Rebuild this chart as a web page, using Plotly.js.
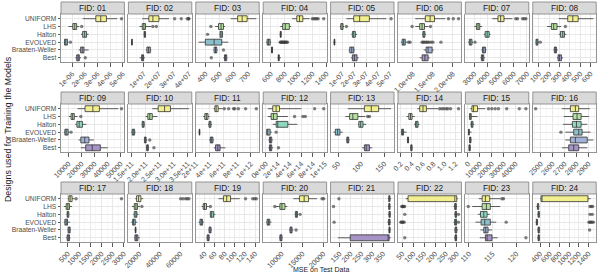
<!DOCTYPE html>
<html><head><meta charset="utf-8">
<script src="https://cdn.plot.ly/plotly-3.0.1.min.js"></script>
<style>html,body{margin:0;padding:0;background:#fff}#chart{width:598px;height:275px}</style>
</head><body><div id="chart"></div>
<script>
// Designs (top to bottom) and fills
const designs = ["UNIFORM","LHS","Halton","EVOLVED","Braaten-Weller","Best"];
const fills = ["#F2F08E","#B5E2A0","#8FD8C0","#8BBFCC","#A2B2D6","#A694C6"];
const fids = ["01","02","03","04","05","06","07","08","09","10","11","12","13","14","15","16","17","18","19","20","21","22","23","24"];

// Each box: [lower whisker, q1, median, q3, upper whisker], one row per design
const box01 = [[1.82e-6,2.86e-6,3.25e-6,3.70e-6,4.55e-6],[0.70e-6,1.04e-6,1.20e-6,1.35e-6,1.56e-6],[1.69e-6,1.82e-6,1.98e-6,2.13e-6,2.29e-6],[0.34e-6,0.39e-6,0.49e-6,0.62e-6,0.70e-6],[1.51e-6,1.66e-6,1.79e-6,1.92e-6,2.29e-6],[1.25e-6,1.35e-6,1.46e-6,1.56e-6,1.69e-6]];
const out01 = [[4.89e-6],[1.75e-6],[],[0.86e-6],[],[2.03e-6]];
const box02 = [[0.89e7,1.33e7,1.60e7,2.00e7,2.67e7],[0.71e7,0.89e7,1.00e7,1.11e7,1.49e7],[0.98e7,1.02e7,1.05e7,1.11e7,1.13e7],[0.16e7,0.18e7,0.20e7,0.23e7,0.25e7],[1.13e7,1.20e7,1.31e7,1.43e7,1.49e7],[0.71e7,0.85e7,0.91e7,0.98e7,1.07e7]];
const out02 = [[3.05e7,3.49e7,3.89e7,3.98e7,4.0e7],[1.6e7,1.83e7],[],[],[],[]];
const box03 = [[577,626,658,693,758],[467,491,509,526,537],[498,502,509,519,523],[351,398,460,514,560],[456,460,470,479,484],[526,533,540,549,553]];
const out03 = [[],[437],[414],[],[526],[440]];
const box04 = [[905,973,1012,1060,1157],[736,770,808,866,891],[727,735,740,750,755],[532,547,566,590,605],[605,610,617,624,630],[697,707,712,722,745]];
const out04 = [[1197,1220,1240,1260,1280,1360],[],[],[735,745,755,765,775,785,795,805,815,825,840],[],[]];
const box05 = [[1.36e-7,1.97e-7,2.47e-7,3.28e-7,4.7e-7],[0.81e-7,0.89e-7,1.0e-7,1.08e-7,1.17e-7],[1.78e-7,1.86e-7,1.97e-7,2.11e-7,2.25e-7],[0.28e-7,0.33e-7,0.36e-7,0.39e-7,0.44e-7],[1.56e-7,1.64e-7,1.81e-7,1.97e-7,2.06e-7],[1.75e-7,1.86e-7,2.03e-7,2.25e-7,2.39e-7]];
const out05 = [[5.1e-7],[1.36e-7],[],[],[],[]];
const box06 = [[1.06e8,1.31e8,1.43e8,1.54e8,1.81e8],[1.06e8,1.17e8,1.23e8,1.29e8,1.39e8],[1.23e8,1.25e8,1.28e8,1.30e8,1.33e8],[0.70e8,0.73e8,0.77e8,0.81e8,0.85e8],[1.27e8,1.33e8,1.38e8,1.48e8,1.52e8],[1.17e8,1.23e8,1.30e8,1.38e8,1.42e8]];
const out06 = [[1.89e8,2.01e8,2.14e8],[0.98e8,1.44e8],[],[0.89e8,0.93e8,1.23e8,1.26e8,1.29e8,1.33e8,1.36e8,1.40e8,1.45e8,1.50e8,1.70e8],[],[]];
const box07 = [[4359,4795,5000,5256,5897],[3000,3154,3282,3410,3590],[3718,3820,3974,4128,4231],[2538,2615,2692,2820,2897],[3538,3615,3718,3846,3923],[3462,3538,3615,3718,3795]];
const out07 = [[6154,6282,6667,6795,6923],[],[],[3050],[],[]];
const box08 = [[292,379,428,480,627],[178,220,243,275,314],[292,308,330,347,366],[68,71,81,90,100],[240,249,259,269,282],[275,285,298,318,334]];
const out08 = [[],[356],[],[113],[],[]];
const box09 = [[17000,22750,28750,33750,48250],[10250,12000,13250,14500,17000],[15250,16500,18250,20750,23750],[6500,7250,8250,9750,10750],[17750,19500,22500,25750,29500],[19500,23250,28250,34500,40250]];
const out09 = [[50750],[19500],[],[12000],[],[]];
const box10 = [[2.24e11,2.45e11,2.68e11,2.89e11,3.55e11],[2.0e11,2.08e11,2.15e11,2.24e11,2.42e11],[1.86e11,1.88e11,1.92e11,1.95e11,1.98e11],[1.49e11,1.52e11,1.56e11,1.61e11,1.64e11],[1.95e11,1.96e11,2.0e11,2.02e11,2.06e11],[2.01e11,2.04e11,2.06e11,2.10e11,2.12e11]];
const out10 = [[],[],[],[],[2.15e11],[2.3e11]];
const box11 = [[4.57e11,4.76e11,4.95e11,5.24e11,5.90e11],[3.05e11,3.29e11,3.52e11,3.76e11,4.0e11],[3.76e11,3.90e11,4.05e11,4.19e11,4.33e11],[2.40e11,2.47e11,2.52e11,2.57e11,2.62e11],[3.90e11,4.10e11,4.29e11,4.48e11,4.62e11],[4.62e11,4.86e11,5.19e11,5.52e11,6.29e11]];
const out11 = [[6.14e11,6.76e11,7.48e11,7.67e11,8.19e11,9.24e11,10.8e11],[],[],[],[],[]];
const box12 = [[0.031e15,0.116e15,0.174e15,0.231e15,0.602e15],[0.031e15,0.089e15,0.128e15,0.191e15,0.373e15],[0.116e15,0.174e15,0.202e15,0.373e15,0.533e15],[0.003e15,0.014e15,0.031e15,0.072e15,0.099e15],[0.043e15,0.060e15,0.077e15,0.099e15,0.116e15],[0.043e15,0.060e15,0.077e15,0.099e15,0.123e15]];
const out12 = [[0.829e15,0.983e15],[0.487e15,0.629e15,0.670e15],[],[0.174e15],[],[0.214e15]];
const box13 = [[71,107,122,138,165],[66,75,82,93,109],[93,95,99,104,111],[40,44,49,54,60],[67,69,71,73,75],[102,107,111,118,124]];
const out13 = [[],[114,118],[],[],[],[]];
const box14 = [[0.503,0.545,0.605,0.667,0.878],[0.304,0.345,0.376,0.405,0.455],[0.442,0.467,0.491,0.515,0.54],[0.2,0.213,0.231,0.249,0.304],[0.31,0.322,0.33,0.34,0.35],[0.37,0.382,0.39,0.405,0.415]];
const out14 = [[0.909,0.951,0.987,1.03,1.06,1.11,1.255],[],[],[],[],[]];
const box15 = [[1944,3333,4722,8056,14444],[833,1389,1944,2778,8056],[1944,2778,3333,4167,5278],[278,556,833,1111,3056],[1111,1389,1944,2500,3056],[556,833,1389,1944,2500]];
const out15 = [[17222,20000,22778,25556,32500,43056,48611],[],[],[],[],[]];
const box16 = [[2677,2748,2790,2818,2911],[2692,2770,2804,2838,2903],[2686,2765,2799,2838,2889],[2706,2776,2818,2846,2917],[2706,2748,2790,2889,2940],[2677,2734,2776,2818,2889]];
const out16 = [[2458],[],[],[2669],[],[]];
const box17 = [[500,544,603,691,794],[324,426,500,574,691],[441,471,500,544,574],[324,368,426,485,603],[485,515,559,603,632],[426,471,515,574,618]];
const out17 = [[868,2897],[],[],[],[],[]];
const box18 = [[16129,17419,19355,21613,23871],[12903,15161,16774,18387,20645],[14194,15161,16774,17742,19355],[12258,13548,14194,16129,18065],[15484,16129,16452,16774,17097],[15161,15806,17097,18710,20645]];
const out18 = [[60323,62581,65161,66774,68387],[22581],[],[],[],[]];
const box19 = [[67.7,77.4,83.9,91.6,109.7],[34.2,37.4,40,43.9,48.4],[50.3,51.6,54.2,58.1,61.3],[28.4,31,33.5,36.1,38.7],[47.7,49,51,52.9,54.2],[43.9,45.2,47.1,49,50.3]];
const out19 = [[121.3,135.5,139.4,142.6],[51.6],[],[],[],[]];
const box20 = [[12823,14274,15403,16452,18468],[8629,9597,10081,10806,11371],[13145,13306,13548,13790,13952],[6290,6532,6855,7177,7580],[11774,12016,12258,12500,12823],[9435,9597,9839,10081,10242]];
const out20 = [[19677,20081],[8387],[14435],[],[13468],[]];
const box21 = [[372,376,379,382,387],[372,376,379,382,385],[373,377,380,383,386],[370,375,379,382,386],[374,377,380,382,385],[142,199,373,378,385]];
const out21 = [[147],[122],[],[125],[],[]];
const box22 = [[65,76,291,300,305],[285,290,294,298,302],[288,292,295,299,302],[285,290,295,299,302],[288,292,296,300,305],[288,292,295,299,302]];
const out22 = [[],[47,50,53,57,60],[61,308],[43,46,50,54,58,308],[],[61]];
const box23 = [[112.08,112.78,113.47,114.38,116.6],[110.69,112.78,113.68,114.51,116.6],[111.88,112.43,113.13,113.82,114.38],[111.39,112.57,113.33,114.51,115.76],[112.43,113.13,113.54,114.03,114.86],[112.29,113.47,113.82,114.86,116.04]];
const out23 = [[116.94,117.29],[109.86],[],[117.85],[],[122.01]];
const box24 = [[407,421,441,1386,1441],[324,345,359,372,386],[345,359,372,386,400],[310,324,338,345,359],[345,359,372,386,400],[345,359,372,386,400]];
const out24 = [[],[1428,1455,1483],[1428,1476],[1407,1428,1448,1469,1497],[1421],[]];

// Tick values and labels per panel
const tv01=[1e-6,2e-6,3e-6,4e-6,5e-6], tl01=["1e-06","2e-06","3e-06","4e-06","5e-06"];
const tv02=[1e7,2e7,3e7,4e7], tl02=["1e+07","2e+07","3e+07","4e+07"];
const tv03=[400,500,600,700], tl03=["400","500","600","700"];
const tv04=[600,800,1000,1200,1400], tl04=["600","800","1000","1200","1400"];
const tv05=[1e-7,2e-7,3e-7,4e-7,5e-7], tl05=["1e-07","2e-07","3e-07","4e-07","5e-07"];
const tv06=[1.0e8,1.5e8,2.0e8], tl06=["1.0e+08","1.5e+08","2.0e+08"];
const tv07=[3000,4000,5000,6000,7000], tl07=["3000","4000","5000","6000","7000"];
const tv08=[100,200,300,400,500,600], tl08=["100","200","300","400","500","600"];
const tv09=[10000,20000,30000,40000,50000], tl09=["10000","20000","30000","40000","50000"];
const tv10=[1.5e11,2.0e11,2.5e11,3.0e11,3.5e11], tl10=["1.5e+11","2.0e+11","2.5e+11","3.0e+11","3.5e+11"];
const tv11=[2e11,4e11,6e11,8e11,1e12], tl11=["2e+11","4e+11","6e+11","8e+11","1e+12"];
const tv12=[0,2e14,4e14,6e14,8e14,1e15], tl12=["0e+00","2e+14","4e+14","6e+14","8e+14","1e+15"];
const tv13=[50,100,150], tl13=["50","100","150"];
const tv14=[0.2,0.4,0.6,0.8,1.0,1.2], tl14=["0.2","0.4","0.6","0.8","1.0","1.2"];
const tv15=[0,10000,20000,30000,40000], tl15=["0","10000","20000","30000","40000"];
const tv16=[2500,2600,2700,2800,2900], tl16=["2500","2600","2700","2800","2900"];
const tv17=[500,1000,1500,2000,2500,3000], tl17=["500","1000","1500","2000","2500","3000"];
const tv18=[20000,40000,60000], tl18=["20000","40000","60000"];
const tv19=[40,60,80,100,120,140], tl19=["40","60","80","100","120","140"];
const tv20=[10000,15000,20000], tl20=["10000","15000","20000"];
const tv21=[150,200,250,300,350], tl21=["150","200","250","300","350"];
const tv22=[50,100,150,200,250,300], tl22=["50","100","150","200","250","300"];
const tv23=[110,115,120], tl23=["110","115","120"];
const tv24=[400,600,800,1000,1200,1400], tl24=["400","600","800","1000","1200","1400"];

const boxes=[box01,box02,box03,box04,box05,box06,box07,box08,box09,box10,box11,box12,box13,box14,box15,box16,box17,box18,box19,box20,box21,box22,box23,box24];
const outs=[out01,out02,out03,out04,out05,out06,out07,out08,out09,out10,out11,out12,out13,out14,out15,out16,out17,out18,out19,out20,out21,out22,out23,out24];
const tvs=[tv01,tv02,tv03,tv04,tv05,tv06,tv07,tv08,tv09,tv10,tv11,tv12,tv13,tv14,tv15,tv16,tv17,tv18,tv19,tv20,tv21,tv22,tv23,tv24];
const tls=[tl01,tl02,tl03,tl04,tl05,tl06,tl07,tl08,tl09,tl10,tl11,tl12,tl13,tl14,tl15,tl16,tl17,tl18,tl19,tl20,tl21,tl22,tl23,tl24];

const W=598, H=275;
const FONT='"Liberation Sans", Arial, sans-serif';
const data=[];
const layout={width:W,height:H,margin:{l:0,r:0,t:0,b:0,pad:0},paper_bgcolor:'#ffffff',plot_bgcolor:'#ffffff',
  showlegend:false,boxmode:'overlay',font:{family:FONT,size:7,color:'#4D4D4D'},shapes:[],annotations:[]};
const catOrder=designs.slice().reverse();

for(let i=0;i<24;i++){
  const r=Math.floor(i/8), c=i%8, s=i===0?'':String(i+1);
  const x0=61+67.4*c, x1=x0+63.4, yTop=14+90*r, yBot=yTop+48.5, sTop=yTop-12;
  const b=boxes[i], o=outs[i], tv=tvs[i];
  const all=[]; b.forEach(v=>all.push(...v)); o.forEach(v=>all.push(...v));
  const lo=Math.min(...all), hi=Math.max(...all), pad=0.05*(hi-lo);
  const step=tv[1]-tv[0];
  const minor=[tv[0]-step/2];
  for(let k=0;k<tv.length-1;k++) minor.push((tv[k]+tv[k+1])/2);
  minor.push(tv[tv.length-1]+step/2);
  layout['xaxis'+s]={domain:[x0/W,x1/W],anchor:'y'+s,range:[lo-pad,hi+pad],
    tickmode:'array',tickvals:tv,ticktext:tls[i],tickangle:-45,
    ticks:'outside',ticklen:3.5,tickwidth:0.8,tickcolor:'#333333',
    tickfont:{family:FONT,size:7.2,color:'#4D4D4D'},
    showgrid:true,gridcolor:'#E6E6E6',gridwidth:0.9,zeroline:false,
    minor:{tickmode:'array',tickvals:minor,showgrid:true,gridcolor:'#F2F2F2',gridwidth:0.5,ticks:''},
    showline:true,mirror:true,linecolor:'#8A8A8A',linewidth:0.9,fixedrange:true};
  layout['yaxis'+s]={domain:[1-yBot/H,1-yTop/H],anchor:'x'+s,type:'category',
    categoryorder:'array',categoryarray:catOrder,range:[-0.6,5.6],
    tickmode:'array',tickvals:catOrder,ticktext:catOrder,
    showticklabels:c===0,ticks:c===0?'outside':'',ticklen:2.5,tickwidth:0.8,tickcolor:'#333333',
    tickfont:{family:FONT,size:6.7,color:'#4D4D4D'},
    showgrid:true,gridcolor:'#E6E6E6',gridwidth:0.9,zeroline:false,
    showline:true,mirror:true,linecolor:'#8A8A8A',linewidth:0.9,fixedrange:true};
  designs.forEach((d,j)=>{
    data.push({type:'box',orientation:'h',xaxis:'x'+s,yaxis:'y'+s,y:[d],
      lowerfence:[b[j][0]],q1:[b[j][1]],median:[b[j][2]],q3:[b[j][3]],upperfence:[b[j][4]],
      fillcolor:fills[j],line:{color:'#333333',width:0.8},whiskerwidth:0,width:0.75,
      boxpoints:false,hoverinfo:'skip',showlegend:false});
  });
  const ox=[], oy=[];
  o.forEach((vals,j)=>vals.forEach(v=>{ox.push(v); oy.push(designs[j]);}));
  data.push({type:'scatter',mode:'markers',xaxis:'x'+s,yaxis:'y'+s,x:ox,y:oy,
    marker:{size:3.4,color:'rgba(60,60,60,0.65)',line:{width:0}},hoverinfo:'skip',showlegend:false});
  layout.shapes.push({type:'rect',xref:'paper',yref:'paper',x0:x0/W,x1:x1/W,y0:1-yTop/H,y1:1-sTop/H,
    fillcolor:'#D9D9D9',line:{color:'#8A8A8A',width:0.9},layer:'above'});
  layout.annotations.push({xref:'paper',yref:'paper',x:(x0+x1)/2/W,y:1-(yTop+sTop)/2/H,
    text:'FID: '+fids[i],showarrow:false,xanchor:'center',yanchor:'middle',
    font:{family:FONT,size:8.3,color:'#1A1A1A'}});
}
layout.annotations.push({xref:'paper',yref:'paper',x:321/W,y:1-269/H,text:'MSE on Test Data',
  showarrow:false,xanchor:'center',yanchor:'middle',font:{family:FONT,size:7,color:'#1A1A1A'}});
layout.annotations.push({xref:'paper',yref:'paper',x:8/W,y:1-129/H,text:'Designs used for Training the Models',
  textangle:-90,showarrow:false,xanchor:'center',yanchor:'middle',font:{family:FONT,size:8.8,color:'#1A1A1A'}});

Plotly.newPlot('chart',data,layout,{staticPlot:true,displayModeBar:false});
</script></body></html>
